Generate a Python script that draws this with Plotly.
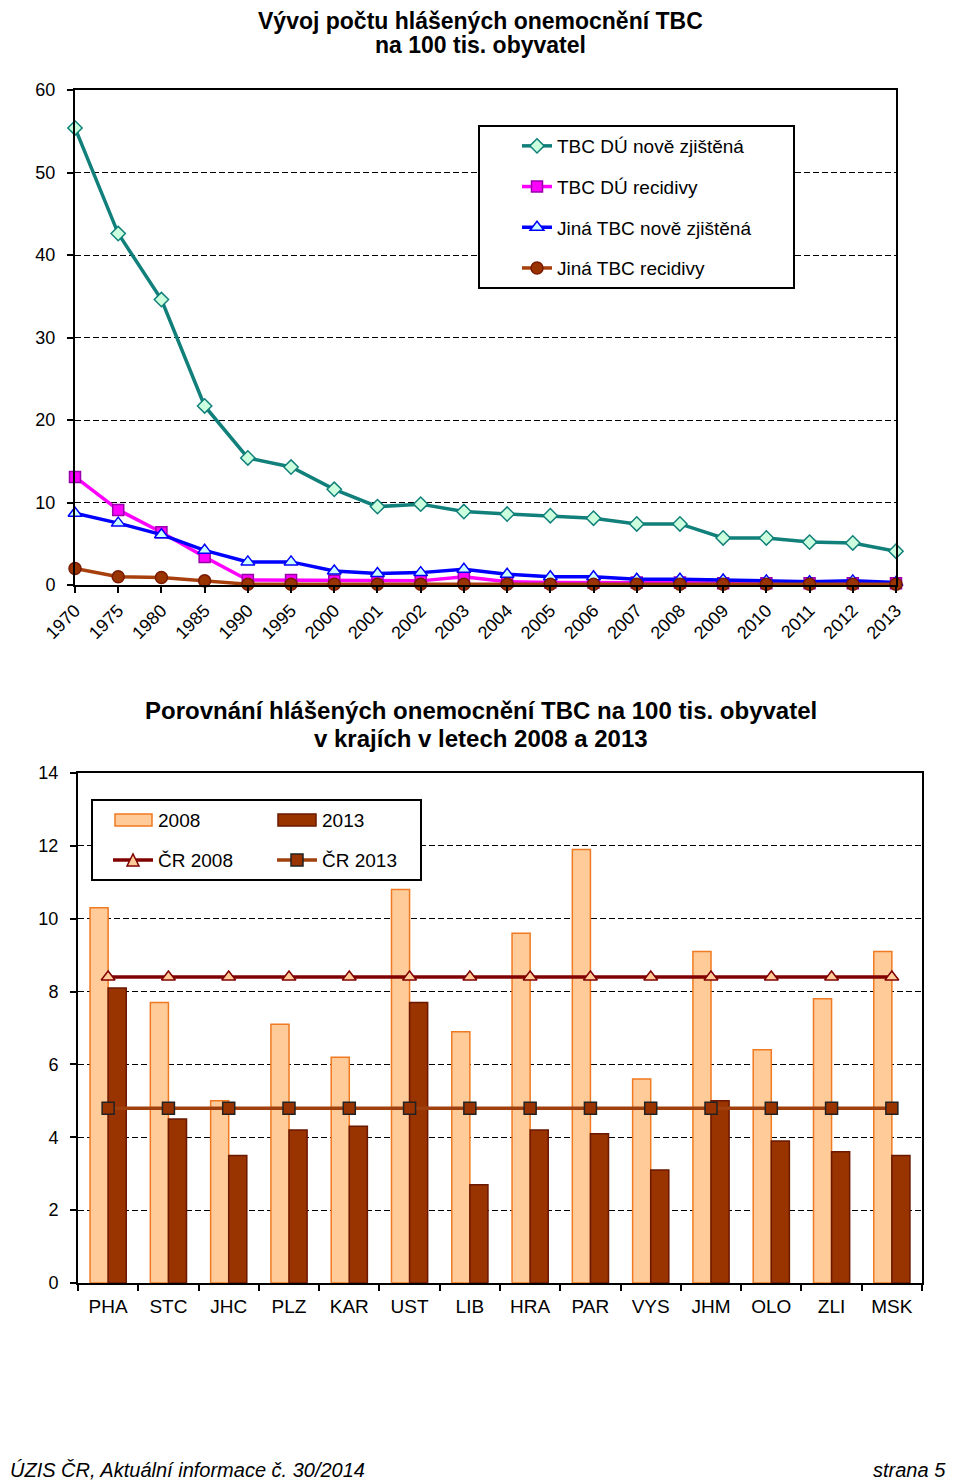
import plotly.graph_objects as go

# ---------- data: top chart ----------
years = ["1970", "1975", "1980", "1985", "1990", "1995", "2000", "2001", "2002", "2003",
         "2004", "2005", "2006", "2007", "2008", "2009", "2010", "2011", "2012", "2013"]
tbc_du_nove = [55.4, 42.6, 34.6, 21.7, 15.4, 14.3, 11.6, 9.5, 9.8, 8.9,
               8.6, 8.4, 8.1, 7.4, 7.4, 5.7, 5.7, 5.2, 5.1, 4.1]
tbc_du_recidivy = [13.1, 9.1, 6.4, 3.4, 0.6, 0.6, 0.5, 0.5, 0.5, 1.0,
                   0.4, 0.3, 0.3, 0.3, 0.3, 0.2, 0.2, 0.2, 0.2, 0.2]
jina_nove = [8.7, 7.5, 6.1, 4.2, 2.8, 2.8, 1.7, 1.4, 1.5, 1.9,
             1.3, 1.0, 1.0, 0.7, 0.7, 0.6, 0.5, 0.4, 0.5, 0.3]
jina_recidivy = [2.0, 1.0, 0.9, 0.5, 0.1, 0.1, 0.1, 0.1, 0.1, 0.1,
                 0.1, 0.1, 0.1, 0.1, 0.1, 0.1, 0.1, 0.1, 0.1, 0.1]

# ---------- data: bottom chart ----------
kraje = ["PHA", "STC", "JHC", "PLZ", "KAR", "UST", "LIB", "HRA", "PAR", "VYS", "JHM", "OLO", "ZLI", "MSK"]
v2008 = [10.3, 7.7, 5.0, 7.1, 6.2, 10.8, 6.9, 9.6, 11.9, 5.6, 9.1, 6.4, 7.8, 9.1]
v2013 = [8.1, 4.5, 3.5, 4.2, 4.3, 7.7, 2.7, 4.2, 4.1, 3.1, 5.0, 3.9, 3.6, 3.5]
cr2008 = 8.4
cr2013 = 4.8

# page has an 8px body margin -> figure is 952 x 1476 placed at (8, 8)
OFF = 8
W, H = 960 - OFF, 1484 - OFF
def px(x): return (x - OFF) / W
def py(y): return 1 - (y - OFF) / H

FONT = "Arial, Liberation Sans, sans-serif"
DASH = "6px,3px"

C2008_FILL, C2008_LINE = "#ffcc99", "#f07a22"
C2013_FILL, C2013_LINE = "#993300", "#6b1800"
CR08_LINE, CR13_LINE = "#800000", "#a0400f"

fig = go.Figure()

# top chart traces
top_series = [
    ("TBC DÚ nově zjištěná", tbc_du_nove, "#11807a", "diamond", "#ccffdd", "#11807a", 11),
    ("TBC DÚ recidivy", tbc_du_recidivy, "#ff00ff", "square", "#ff00ff", "#9900aa", 11),
    ("Jiná TBC nově zjištěná", jina_nove, "#0000ff", "triangle-up", "#ccffff", "#0000ff", 12),
    ("Jiná TBC recidivy", jina_recidivy, "#a8400e", "circle", "#993300", "#7a1a00", 12),
]
for i, (name, vals, lc, sym, fc, oc, ms) in enumerate(top_series):
    fig.add_trace(go.Scatter(
        x=years, y=vals, name=name, mode="lines+markers",
        line=dict(color=lc, width=3.5),
        marker=dict(symbol=sym, color=fc, size=ms, line=dict(color=oc, width=1.5)),
        cliponaxis=False, xaxis="x", yaxis="y",
        legend="legend", legendgroup="g%d" % i,
    ))

# bottom chart traces
fig.add_trace(go.Bar(
    x=kraje, y=v2008, name="2008", xaxis="x2", yaxis="y2", showlegend=False,
    marker=dict(color=C2008_FILL, line=dict(color=C2008_LINE, width=1.5)),
))
fig.add_trace(go.Bar(
    x=kraje, y=v2013, name="2013", xaxis="x2", yaxis="y2", showlegend=False,
    marker=dict(color=C2013_FILL, line=dict(color=C2013_LINE, width=1.5)),
))
fig.add_trace(go.Scatter(
    x=kraje, y=[cr2008] * len(kraje), name="ČR 2008", mode="lines+markers",
    xaxis="x2", yaxis="y2", showlegend=False,
    line=dict(color=CR08_LINE, width=3.5),
    marker=dict(symbol="triangle-up", color=C2008_FILL, size=12, line=dict(color=CR08_LINE, width=1.5)),
))
fig.add_trace(go.Scatter(
    x=kraje, y=[cr2013] * len(kraje), name="ČR 2013", mode="lines+markers",
    xaxis="x2", yaxis="y2", showlegend=False,
    line=dict(color=CR13_LINE, width=3.5),
    marker=dict(symbol="square", color=C2013_FILL, size=12, line=dict(color="#222222", width=1.5)),
))

axis_common = dict(showline=True, linecolor="black", linewidth=2, mirror=True,
                   ticks="outside", ticklen=6, tickcolor="black", tickwidth=1.5,
                   automargin=False,
                   tickfont=dict(family=FONT, size=18, color="black"), zeroline=False)

# ---- manual legend for the bottom chart (keys drawn as shapes) ----
def rect(x0, y0, x1, y1, fill, line, lw=1.5):
    return dict(type="rect", xref="paper", yref="paper", x0=px(x0), x1=px(x1), y0=py(y1), y1=py(y0),
                fillcolor=fill, line=dict(color=line, width=lw), layer="above")

def hline(x0, x1, y, color, lw=3.5):
    return dict(type="line", xref="paper", yref="paper", x0=px(x0), x1=px(x1), y0=py(y), y1=py(y),
                line=dict(color=color, width=lw), layer="above")

def tri(cx, cy, s, fill, line):
    pts = [(cx - s / 2, cy + s / 2), (cx + s / 2, cy + s / 2), (cx, cy - s / 2)]
    path = "M" + " L".join("%f,%f" % (px(a), py(b)) for a, b in pts) + " Z"
    return dict(type="path", xref="paper", yref="paper", path=path,
                fillcolor=fill, line=dict(color=line, width=1.5), layer="above")

shapes = [
    # top legend frame
    rect(479, 126, 794, 288, "white", "black", 2),
    # bottom legend frame
    rect(92, 800, 421, 880, "white", "black", 2),
    rect(115, 814, 152, 826, C2008_FILL, C2008_LINE),
    rect(278, 814, 316, 826, C2013_FILL, C2013_LINE),
    hline(113, 153, 860, CR08_LINE),
    tri(133, 860, 12, C2008_FILL, CR08_LINE),
    hline(277, 317, 860, CR13_LINE),
    rect(291, 854, 303, 866, C2013_FILL, "#222222"),
]

def label(text, x, y, size=19, xanchor="left", **font_extra):
    return dict(text=text, xref="paper", yref="paper", x=px(x), y=py(y), xanchor=xanchor,
                yanchor="middle", showarrow=False,
                font=dict(family=font_extra.pop("family", FONT), size=size, color="black", **font_extra))

annotations = [
    label("Vývoj počtu hlášených onemocnění TBC", 480, 21, 23, "center", weight="bold"),
    label("na 100 tis. obyvatel", 480, 45, 23, "center", weight="bold"),
    label("Porovnání hlášených onemocnění TBC na 100 tis. obyvatel", 481, 711, 24, "center", weight="bold"),
    label("v krajích v letech 2008 a 2013", 481, 738, 24, "center", weight="bold"),
    label("2008", 156, 820),
    label("2013", 320, 820),
    label("ČR 2008", 156, 860),
    label("ČR 2013", 320, 860),
    label("ÚZIS ČR, Aktuální informace č. 30/2014", 8, 1470, 20, "left", style="italic"),
    label("strana 5", 948, 1470, 20, "right", style="italic"),
]

fig.update_layout(
    width=W, height=H,
    margin=dict(l=0, r=0, t=0, b=0, autoexpand=False),
    paper_bgcolor="white", plot_bgcolor="white",
    font=dict(family=FONT, color="black"),
    barmode="group", bargap=0.4, bargroupgap=0,
    xaxis=dict(domain=[px(75), px(896)], anchor="y", type="category",
               range=[0, len(years) - 1], tickangle=-45, showgrid=False, **axis_common),
    yaxis=dict(domain=[py(585), py(90)], anchor="x", range=[0, 60], dtick=10,
               showgrid=True, gridcolor="black", gridwidth=1.3, griddash=DASH,
               ticklabelstandoff=8, **axis_common),
    xaxis2=dict(domain=[px(78), px(922)], anchor="y2", type="category",
                range=[-0.5, len(kraje) - 0.5],
                tickson="boundaries", showgrid=False, ticklabelstandoff=5,
                **{**axis_common, "tickfont": dict(family=FONT, size=19, color="black")}),
    yaxis2=dict(domain=[py(1283), py(773)], anchor="x2", range=[0, 14], dtick=2,
                showgrid=True, gridcolor="black", gridwidth=1.3, griddash=DASH,
                ticklabelstandoff=8, **axis_common),
    legend=dict(x=px(517), y=py(127), tracegroupgap=13, bgcolor="rgba(0,0,0,0)", borderwidth=0,
                traceorder="grouped", font=dict(family=FONT, size=19, color="black"),
                xanchor="left", yanchor="top", itemclick=False),
    shapes=shapes,
    annotations=annotations,
)

fig.write_html("out.html")
